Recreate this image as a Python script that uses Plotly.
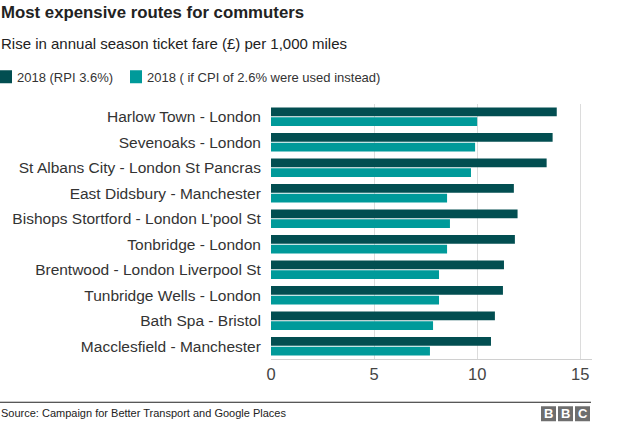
import plotly.graph_objects as go

routes = ["Harlow Town - London", "Sevenoaks - London", "St Albans City - London St Pancras",
          "East Didsbury - Manchester", "Bishops Stortford - London L'pool St", "Tonbridge - London",
          "Brentwood - London Liverpool St", "Tunbridge Wells - London", "Bath Spa - Bristol",
          "Macclesfield - Manchester"]
rpi = [13.86, 13.66, 13.37, 11.78, 11.96, 11.83, 11.30, 11.25, 10.86, 10.67]
cpi = [10.0, 9.9, 9.7, 8.54, 8.68, 8.54, 8.15, 8.15, 7.86, 7.71]
series_names = ["2018 (RPI 3.6%)", "2018 ( if CPI of 2.6% were used instead)"]
colors = ["#024e51", "#009a9a"]
xticks = [0, 5, 10, 15]

W, H = 624, 426
L, R = 271, 592
T, B = 103.75, 358.75

def px(x):
    return (x - L) / (R - L)

def py(y):
    return (B - y) / (B - T)

fig = go.Figure()
for name, vals, c in zip(series_names, [rpi, cpi], colors):
    fig.add_trace(go.Bar(y=routes, x=vals, name=name, orientation="h",
                         marker=dict(color=c, line=dict(width=0)), showlegend=False))

font = "Liberation Sans, Arial, sans-serif"
fig.update_layout(
    width=W, height=H, margin=dict(l=L, r=W - R, t=T, b=H - B),
    paper_bgcolor="white", plot_bgcolor="white",
    barmode="group", bargap=0.24, bargroupgap=0.08,
    font=dict(family=font, color="#222"),
    xaxis=dict(range=[0, 15.57], tickvals=xticks, showgrid=True, gridcolor="#dcdcdc",
               gridwidth=1, zeroline=False, showline=True, linecolor="#d0d0d0",
               tickfont=dict(size=16.5, color="#444"), ticks="", fixedrange=True),
    yaxis=dict(categoryorder="array", categoryarray=routes, autorange="reversed",
               tickfont=dict(size=15.5, color="#333"), ticks="outside", ticklen=6,
               tickcolor="rgba(0,0,0,0)", showline=False, showgrid=False),
)

ann = []
def add_text(text, x, y, size, xanchor="left", color="#222"):
    ann.append(dict(text=text, x=px(x), y=py(y), xref="paper", yref="paper",
                    xanchor=xanchor, yanchor="middle", showarrow=False,
                    font=dict(size=size, color=color, family=font)))

add_text("<b>Most expensive routes for commuters</b>", -1, 12, 16.8)
add_text("Rise in annual season ticket fare (£) per 1,000 miles", -1, 43, 15)
# legend
leg_x = [0, 130]
shapes = []
for lx, name, c in zip(leg_x, series_names, colors):
    shapes.append(dict(type="rect", xref="paper", yref="paper", x0=px(lx), x1=px(lx + 12),
                       y0=py(83), y1=py(70), fillcolor=c, line=dict(width=0)))
    add_text(name, lx + 15, 77, 13, color="#333")
# source line
shapes.append(dict(type="line", xref="paper", yref="paper", x0=px(0), x1=px(591),
                   y0=py(402), y1=py(402), line=dict(color="#222", width=1)))
add_text("Source: Campaign for Better Transport and Google Places", -1, 413, 11)
# BBC logo
for i, letter in enumerate("BBC"):
    x0 = 541 + i * 17
    shapes.append(dict(type="rect", xref="paper", yref="paper", x0=px(x0), x1=px(x0 + 15),
                       y0=py(421), y1=py(406), fillcolor="#6e6e6e", line=dict(width=0)))
    add_text("<b>" + letter + "</b>", x0 + 7.5, 413.5, 13, xanchor="center", color="white")

fig.update_layout(annotations=ann, shapes=shapes)
fig.write_html("out.html")
